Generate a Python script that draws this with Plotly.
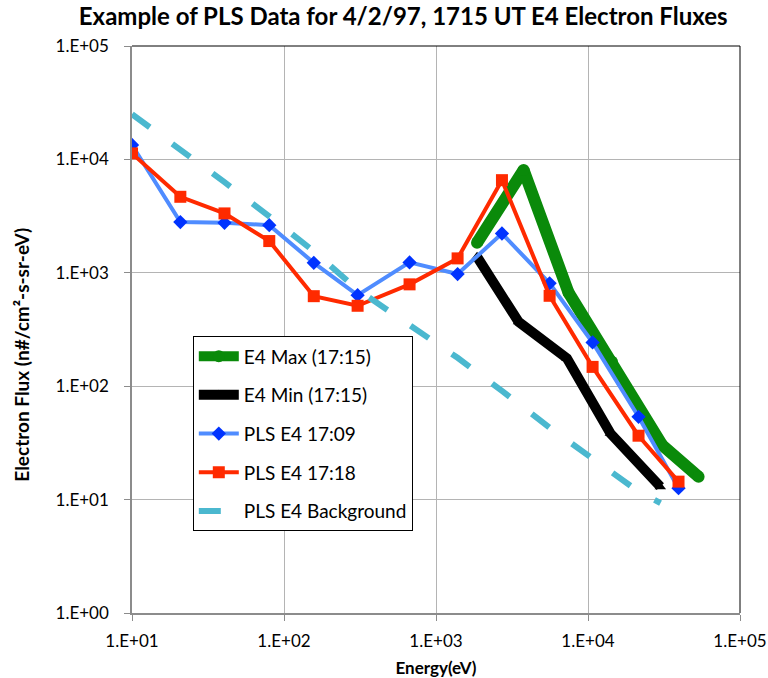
import plotly.graph_objects as go

# energies (eV) and fluxes
pls_energy = [10, 20.8, 40.6, 80, 157, 305, 670, 1387, 2716, 5590, 10720, 21500, 39400]
pls_1709 = [13400, 2800, 2760, 2630, 1225, 635, 1235, 975, 2220, 807, 243, 53.7, 12.6]
pls_1718 = [11300, 4680, 3340, 1905, 622, 512, 791, 1340, 6560, 627, 148, 36.6, 14.4]

max_energy = [1862, 3770, 7450, 14380, 30700, 53400]
e4_max = [1840, 8050, 667, 164, 30.3, 15.9]

min_energy = [1862, 3490, 7270, 14030, 29900]
e4_min = [1384, 370, 176, 38.4, 13.0]

bg_energy = [10, 20.8, 40.6, 80, 157, 305, 670, 1387, 2716, 5590, 10720, 21500, 30000]
bg_flux = [25000, 12300, 6300, 3150, 1550, 710, 340, 178, 91, 43, 23, 11.8, 9.3]

x_ticks = [1e1, 1e2, 1e3, 1e4, 1e5]
x_labels = ["1.E+01", "1.E+02", "1.E+03", "1.E+04", "1.E+05"]
y_ticks = [1e0, 1e1, 1e2, 1e3, 1e4, 1e5]
y_labels = ["1.E+00", "1.E+01", "1.E+02", "1.E+03", "1.E+04", "1.E+05"]

FONT = "Lato"

fig = go.Figure()
fig.add_trace(go.Scatter(x=max_energy, y=e4_max, name="E4 Max (17:15)", legendgroup="a",
                         mode="lines+markers", line=dict(color="#0a8a0a", width=12),
                         marker=dict(symbol="circle", size=12, color="#0a8a0a")))
fig.add_trace(go.Scatter(x=min_energy, y=e4_min, name="E4 Min (17:15)", legendgroup="b",
                         mode="lines+markers", line=dict(color="black", width=10),
                         marker=dict(symbol="triangle-up", size=10, color="black")))
fig.add_trace(go.Scatter(x=pls_energy, y=pls_1709, name="PLS E4 17:09", legendgroup="c",
                         mode="lines+markers", line=dict(color="#4f8cff", width=4),
                         marker=dict(symbol="diamond", size=11, color="#0033ff")))
fig.add_trace(go.Scatter(x=pls_energy, y=pls_1718, name="PLS E4 17:18", legendgroup="d",
                         mode="lines+markers", line=dict(color="#ff2a00", width=4),
                         marker=dict(symbol="square", size=12, color="#ff2a00")))
fig.add_trace(go.Scatter(x=bg_energy, y=bg_flux, name="PLS E4 Background", legendgroup="e",
                         mode="lines", line=dict(color="#4bb8cf", width=6, dash="22px,28px")))

axis_common = dict(type="log", showgrid=True, gridcolor="#b4b4b4", gridwidth=1,
                   showline=True, linecolor="#8c8c8c", linewidth=1.5,
                   ticks="outside", ticklen=6, tickcolor="#8c8c8c", automargin=False,
                   tickfont=dict(family=FONT, size=17, color="black"), zeroline=False)

fig.update_xaxes(axis_common, range=[1, 5], tickvals=x_ticks, ticktext=x_labels, ticklabelstandoff=6,
                 title=dict(text="<b>Energy(eV)</b>", font=dict(family=FONT, size=17, color="black"), standoff=14))
fig.update_yaxes(axis_common, range=[0, 5], tickvals=y_ticks, ticktext=y_labels, ticklabelstandoff=12)

fig.update_layout(
    width=768, height=678,
    margin=dict(l=132, r=28, t=46, b=65),
    paper_bgcolor="white", plot_bgcolor="white",
    title=dict(text="<b>Example of PLS Data for 4/2/97, 1715 UT E4 Electron Fluxes</b>",
               font=dict(family=FONT, size=24, color="black"), x=0.525, xanchor="center", y=0.975, yanchor="middle"),
    legend=dict(x=0.1, y=0.488, xanchor="left", yanchor="top", bgcolor="white",
                bordercolor="black", borderwidth=1, font=dict(family=FONT, size=19, color="black"),
                tracegroupgap=11, itemwidth=40),
    annotations=[dict(text="<b>Electron Flux (n#/cm²-s-sr-eV)</b>", textangle=-90,
                      xref="paper", yref="paper", x=-0.183, y=0.455, xanchor="center", yanchor="middle",
                      showarrow=False, font=dict(family=FONT, size=19, color="black"))],
    shapes=[
        dict(type="line", xref="paper", yref="paper", x0=0, x1=1, y0=1, y1=1, line=dict(color="black", width=1)),
        dict(type="line", xref="paper", yref="paper", x0=1, x1=1, y0=0, y1=1, line=dict(color="black", width=1)),
    ],
)

# drop the browser's default body margin so the figure sits at the page origin
fig.write_html("out.html", config={"displayModeBar": False},
               post_script="document.body.style.margin='0';")
